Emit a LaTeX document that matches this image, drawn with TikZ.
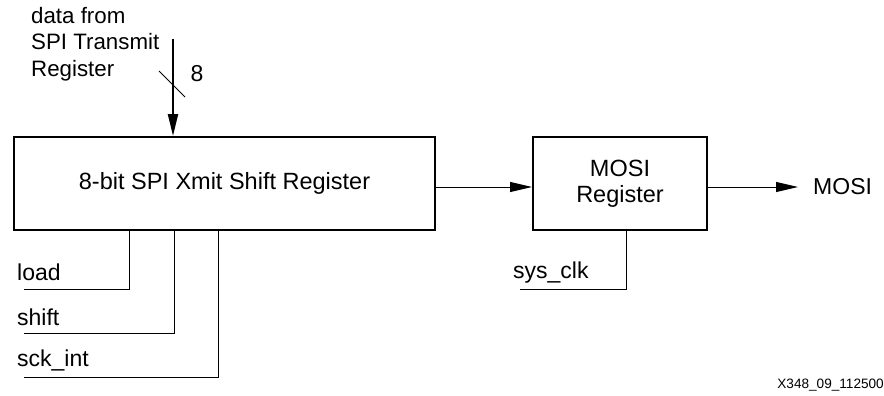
\documentclass[tikz,border=0pt]{standalone}
\usepackage{fontspec}
\setmainfont{Liberation Sans}
\usetikzlibrary{arrows.meta}
\begin{document}
\begin{tikzpicture}[x=1pt,y=-1pt,
  txt/.style={inner sep=0pt,font=\fontsize{23}{27}\selectfont},
  blk/.style={draw,line width=2pt,inner sep=0pt,align=center,font=\fontsize{23.5}{27}\selectfont},
  wire/.style={line width=1pt},
  sig/.style={line width=1pt,-{Triangle[length=22pt,width=10pt]}},
  bus/.style={line width=2.2pt,-{Triangle[length=22pt,width=10pt]}}]
\useasboundingbox (0,0) rectangle (884,396);
\node[blk,minimum width=421pt,minimum height=93pt] (shreg) at (224.5,183.5) {8-bit SPI Xmit Shift Register};
\node[blk,minimum width=174pt,minimum height=93pt] (mosireg) at (620,183.5) {MOSI\\[-1pt]Register};
\node[txt,anchor=west] (mosiout) at (813,187) {MOSI};
\node[txt,anchor=west,align=left,font=\fontsize{22.3}{26.5}\selectfont] (datain) at (31,44) {data from\\SPI Transmit\\Register};
\node[txt] (eight) at (197,74) {8};
\coordinate (busstart) at (173,39);
\coordinate (s1) at (159,71);
\coordinate (s2) at (185,97);
\node[txt,anchor=west] (load) at (17,272) {load};
\node[txt,anchor=west] (shift) at (17,317) {shift};
\node[txt,anchor=west] (sckint) at (17,360) {sck\_int};
\node[txt,anchor=west] (sysclk) at (513,273) {sys\_clk};
\node[inner sep=0pt,anchor=east,font=\fontsize{13.6}{16}\selectfont] (fig) at (884,385) {X348\_09\_112500};
% bus input
\draw[bus] (busstart) -- (busstart |- shreg.north);
\draw[wire] (s1) -- (s2);
% data path
\draw[sig] (shreg.east |- 0,187) -- (mosireg.west |- 0,187);
\draw[sig] (mosireg.east |- 0,187) -- (798,187) coordinate (outtip);
% control wires
\coordinate (lc) at (129,289);
\coordinate (sc) at (174,333);
\coordinate (kc) at (218,377);
\coordinate (yc) at (626,289);
\draw[wire] (24,289) -- (lc) -- (lc |- shreg.south);
\draw[wire] (24,333) -- (sc) -- (sc |- shreg.south);
\draw[wire] (24,377) -- (kc) -- (kc |- shreg.south);
\draw[wire] (520,289) -- (yc) -- (yc |- mosireg.south);
\end{tikzpicture}
\end{document}
